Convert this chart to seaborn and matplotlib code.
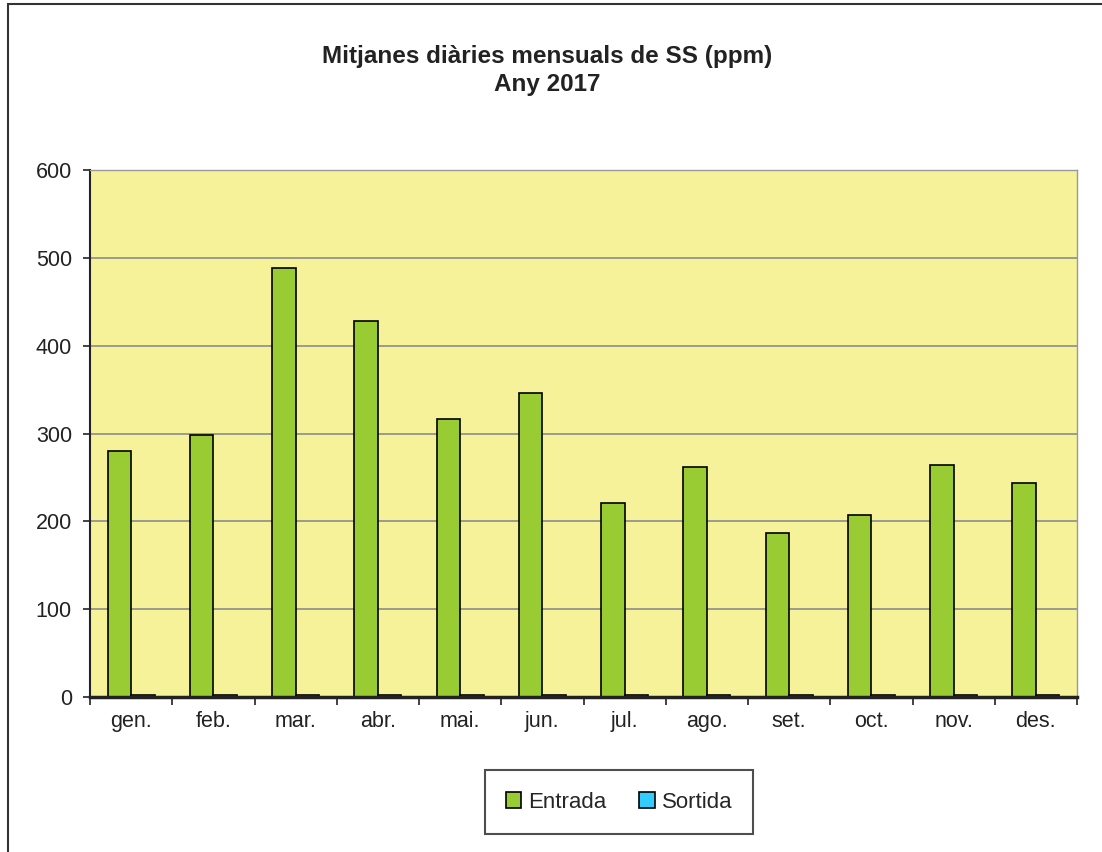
import matplotlib
matplotlib.use("Agg")
import matplotlib.pyplot as plt
import seaborn as sns
import pandas as pd
import numpy as np
from matplotlib.patches import Rectangle

months = ["gen.", "feb.", "mar.", "abr.", "mai.", "jun.", "jul.", "ago.", "set.", "oct.", "nov.", "des."]
entrada = [280, 298, 488, 428, 317, 346, 221, 262, 187, 207, 264, 244]
sortida = [2.5, 2.5, 2.5, 2.5, 2.5, 2.5, 2.5, 2.5, 2.5, 2.5, 2.5, 2.5]
series = ["Entrada", "Sortida"]
colors = ["#99CC33", "#33CCFF"]

sns.set_theme(style="white")
plt.rcParams['font.family'] = ['Liberation Sans', 'DejaVu Sans']

df = pd.DataFrame({
    "mes": months * 2,
    "valor": entrada + sortida,
    "serie": [series[0]] * len(months) + [series[1]] * len(months),
})

fig = plt.figure(figsize=(11.02, 8.52), dpi=100)
ax = fig.add_axes([90/1102, 1 - 697/852, (1077-90)/1102, (697-170)/852])

sns.barplot(data=df, x="mes", y="valor", hue="serie", hue_order=series,
            palette=colors, width=0.57, edgecolor="black", linewidth=1.2,
            ax=ax, saturation=1, legend=True)

ax.set_facecolor("#F6F29A")
ax.set_ylim(0, 600)
ax.set_xlim(-0.5, 11.5)
ax.set_yticks(np.arange(0, 601, 100))
ax.yaxis.grid(True, color="#8c8c8c", linewidth=1.2)
ax.set_axisbelow(True)
ax.set_xlabel("")
ax.set_ylabel("")

for s in ["top", "right"]:
    ax.spines[s].set_visible(True)
    ax.spines[s].set_color("#9a9a9a")
    ax.spines[s].set_linewidth(1)
ax.spines["left"].set_color("#222222")
ax.spines["left"].set_linewidth(1.5)
ax.spines["bottom"].set_color("#222222")
ax.spines["bottom"].set_linewidth(2.5)

ax.tick_params(axis="y", which="major", left=True, length=5, width=1.2, color="#222222",
               labelsize=15.5, pad=8, labelcolor="#222222")
ax.tick_params(axis="x", which="major", bottom=False, length=0, labelsize=15.5, pad=10,
               labelcolor="#222222")
ax.set_xticks(np.arange(-0.5, 12, 1), minor=True)
ax.tick_params(axis="x", which="minor", bottom=True, length=6, width=1.2, color="#222222")

leg = ax.legend(loc="center", bbox_to_anchor=((487+751)/2/1102, 1 - 802/852),
                bbox_transform=fig.transFigure, ncol=2, frameon=True, fancybox=False,
                fontsize=16, handlelength=0.7, handleheight=0.7, handletextpad=0.3,
                columnspacing=1.5, borderpad=0.95)
leg.get_frame().set_edgecolor("#222222")
leg.get_frame().set_linewidth(1.5)
leg.set_title(None)

fig.text(547/1102, 1 - 56/852, "Mitjanes diàries mensuals de SS (ppm)", ha="center", va="center",
         fontsize=17.5, fontweight="bold", color="#222222")
fig.text(547/1102, 1 - 84/852, "Any 2017", ha="center", va="center",
         fontsize=17.5, fontweight="bold", color="#222222")

fig.patches.append(Rectangle((8/1102, -0.05), 1.2, 1 - 4/852 + 0.05, transform=fig.transFigure,
                             fill=False, edgecolor="#333333", linewidth=1.5))

fig.savefig("out.png", dpi=100)
